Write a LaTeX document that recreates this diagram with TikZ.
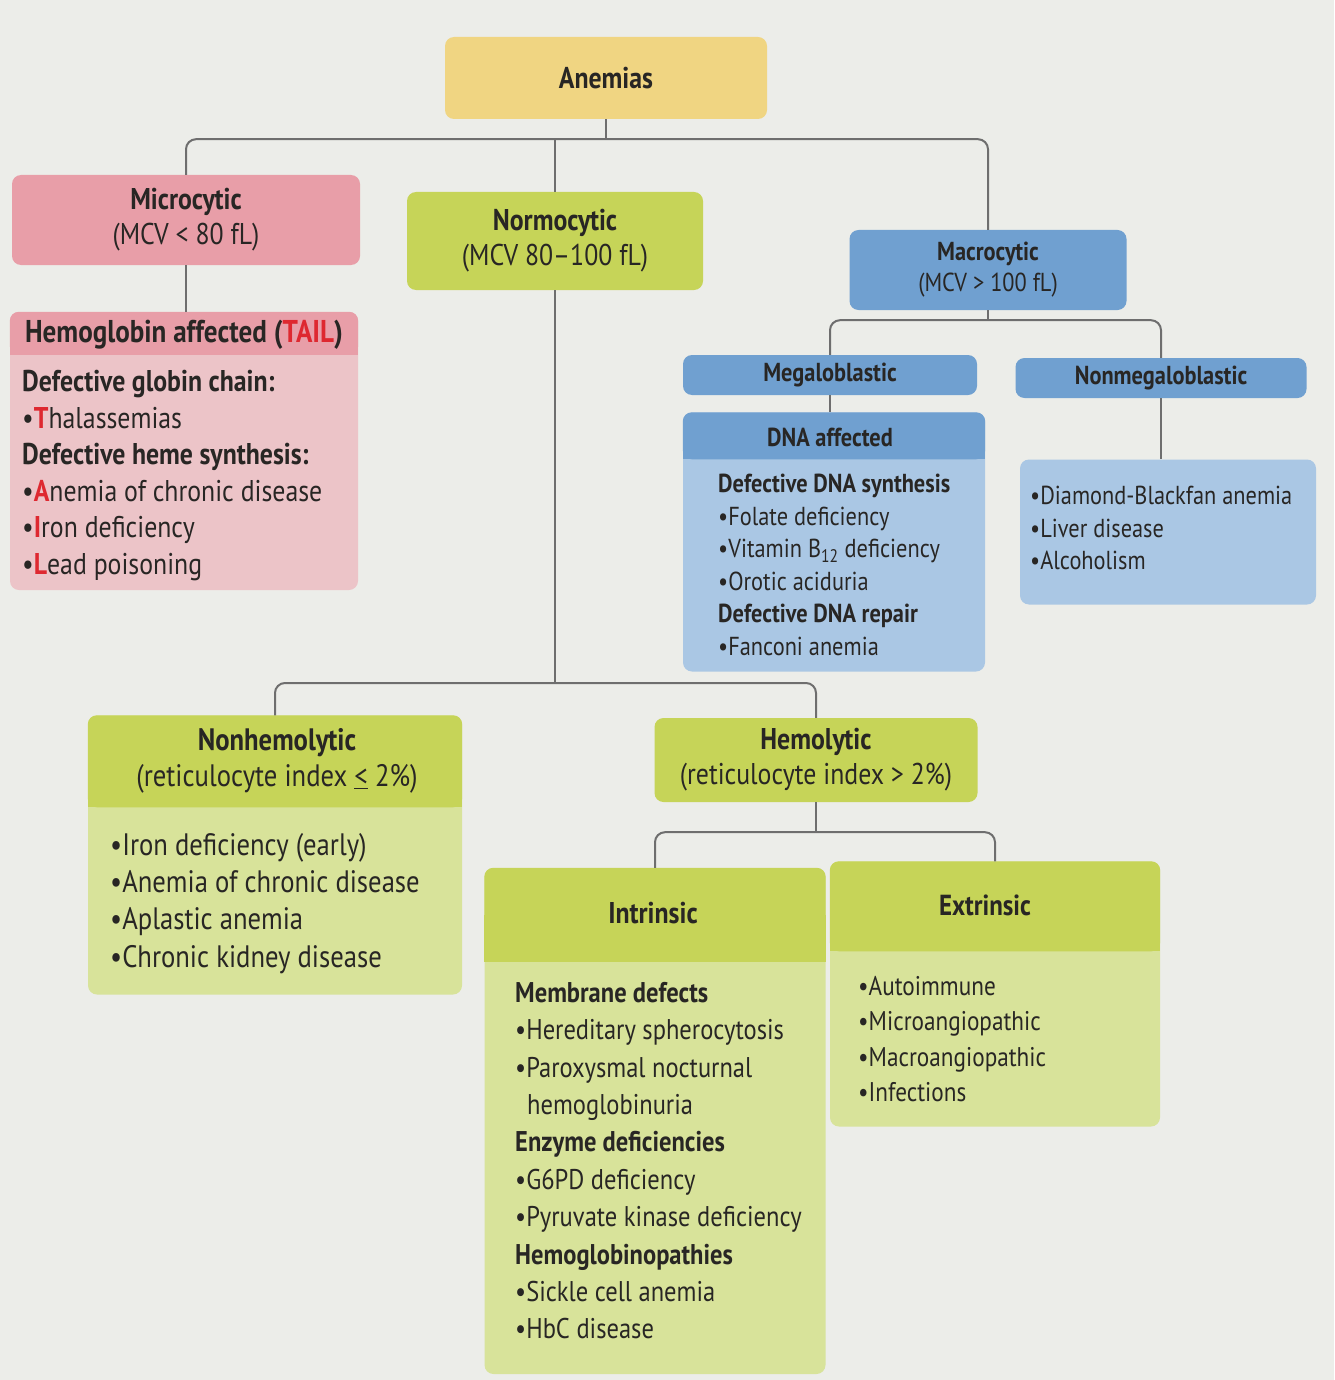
\documentclass[tikz,border=0pt]{standalone}
\usepackage{fontspec}
\setmainfont{PT Sans}[FakeStretch=0.86]
\usetikzlibrary{calc}
\definecolor{bg}{RGB}{236,237,233}
\definecolor{yel}{RGB}{240,213,130}
\definecolor{pinkD}{RGB}{232,158,168}
\definecolor{pinkL}{RGB}{236,196,200}
\definecolor{grnD}{RGB}{198,212,88}
\definecolor{grnL}{RGB}{216,227,154}
\definecolor{bluD}{RGB}{112,160,208}
\definecolor{bluL}{RGB}{170,199,228}
\definecolor{ink}{RGB}{40,38,36}
\definecolor{tailred}{RGB}{222,40,48}
\definecolor{conncol}{RGB}{110,110,110}
\newcommand\hband[3]{%
  \fill[#3, rounded corners=9pt] (#1.north west) rectangle ($(#1.north east)+(0,#2)$);
  \fill[#3] ($(#1.north west)+(0,#2/2)$) rectangle ($(#1.north east)+(0,#2)$);}
\newcommand\tl[1]{\textcolor{tailred}{\textbf{#1}}}
\begin{document}
\begin{tikzpicture}[x=1pt,y=-1pt,
  bx/.style={rounded corners=9pt, inner sep=0pt, text=ink, align=center,
    font=\fontsize{30}{35}\selectfont},
  bxs/.style={bx, font=\fontsize{26}{31}\selectfont},
  hd/.style={inner sep=0pt, text=ink, font=\fontsize{30}{35}\selectfont\bfseries},
  hds/.style={hd, font=\fontsize{26}{31}\selectfont\bfseries},
  lst/.style={anchor=north west, align=left, inner sep=0pt, text=ink,
    font=\fontsize{30}{36.5}\selectfont},
  lsts/.style={lst, font=\fontsize{26}{32.5}\selectfont},
  conn/.style={draw=conncol, line width=2pt, rounded corners=10pt}]
\fill[bg] (0,0) rectangle (1334,1380);
\useasboundingbox (0,0) rectangle (1334,1380);

% ---- boxes
\node[bx, fill=yel, minimum width=322pt, minimum height=82pt] (anem) at (606,78) {\bfseries Anemias};
\node[bx, fill=pinkD, minimum width=348pt, minimum height=90pt] (micro) at (186,220)
  {\textbf{Microcytic}\\(MCV < 80 fL)};
\node[bx, fill=pinkL, minimum width=348pt, minimum height=278pt] (hgb) at (184,451) {};
\node[bx, fill=grnD, minimum width=296pt, minimum height=98pt] (normo) at (555,241)
  {\textbf{Normocytic}\\(MCV 80–100 fL)};
\node[bxs, fill=bluD, minimum width=277pt, minimum height=80pt] (macro) at (988,270)
  {\textbf{Macrocytic}\\(MCV > 100 fL)};
\node[bxs, fill=bluD, minimum width=294pt, minimum height=40pt] (mega) at (830,375)
  {\textbf{Megaloblastic}};
\node[bxs, fill=bluD, minimum width=291pt, minimum height=40pt] (nonmega) at (1161,378)
  {\textbf{Nonmegaloblastic}};
\node[bx, fill=bluL, minimum width=302pt, minimum height=259pt] (dna) at (834,542) {};
\node[bx, fill=bluL, minimum width=296pt, minimum height=145pt] (nmc) at (1168,532) {};
\node[bx, fill=grnL, minimum width=374pt, minimum height=279pt] (nonhem) at (275,855) {};
\node[bx, fill=grnD, minimum width=323pt, minimum height=84pt] (hemol) at (816,760)
  {\textbf{Hemolytic}\\(reticulocyte index > 2\%)};
\node[bx, fill=grnL, minimum width=341pt, minimum height=506pt] (intr) at (655,1121) {};
\node[bx, fill=grnL, minimum width=330pt, minimum height=265pt] (extr) at (995,994) {};

% ---- header bands
\hband{hgb}{43}{pinkD}
\hband{dna}{47}{bluD}
\hband{nonhem}{92}{grnD}
\hband{intr}{94}{grnD}
\hband{extr}{90}{grnD}

% ---- header texts
\node[hd, font=\fontsize{31.5}{35}\selectfont\bfseries] (hgbh) at (184,335) {Hemoglobin affected (\textcolor{tailred}{TAIL})};
\node[hds] (dnah) at (830,437) {DNA affected};
\node[bx, font=\fontsize{31}{36}\selectfont] (nonhemh) at (277,761) {\textbf{Nonhemolytic}\\(reticulocyte index \underline{<} 2\%)};
\node[hd] (intrh) at (653,913) {Intrinsic};
\node[hd, font=\fontsize{29}{35}\selectfont\bfseries] (extrh) at (985,905) {Extrinsic};

% ---- contents
\node[lst] (hgbl) at (22,370) {\textbf{Defective globin chain:}\\
  •\tl{T}halassemias\\
  \textbf{Defective heme synthesis:}\\
  •\tl{A}nemia of chronic disease\\
  •\tl{I}ron deficiency\\
  •\tl{L}ead poisoning};
\node[lsts] (dnal) at (718,474) {\textbf{Defective DNA synthesis}\\
  •Folate deficiency\\
  •Vitamin B\textsubscript{12} deficiency\\
  •Orotic aciduria\\
  \textbf{Defective DNA repair}\\
  •Fanconi anemia};
\node[lsts] (nmcl) at (1030,486) {•Diamond-Blackfan anemia\\
  •Liver disease\\
  •Alcoholism};
\node[lst, font=\fontsize{31}{37.3}\selectfont] (nonhl) at (110,833) {•Iron deficiency (early)\\
  •Anemia of chronic disease\\
  •Aplastic anemia\\
  •Chronic kidney disease};
\node[lst, font=\fontsize{28.5}{37.4}\selectfont] (intrl) at (515,982) {\textbf{Membrane defects}\\
  •Hereditary spherocytosis\\
  •Paroxysmal nocturnal\\
  \hspace*{12pt}hemoglobinuria\\
  \textbf{Enzyme deficiencies}\\
  •G6PD deficiency\\
  •Pyruvate kinase deficiency\\
  \textbf{Hemoglobinopathies}\\
  •Sickle cell anemia\\
  •HbC disease};
\node[lst, font=\fontsize{27}{35.5}\selectfont] (extrl) at (858,976) {•Autoimmune\\
  •Microangiopathic\\
  •Macroangiopathic\\
  •Infections};

% ---- connectors
\coordinate (b1) at ($(anem.south)+(0,20)$);
\draw[conn] (anem.south) -- (b1);
\draw[conn] (micro.north) |- (b1) -| (macro.north);
\draw[conn] (normo.north) -- (normo.north |- b1);
\draw[conn] (micro.south) -- (micro.south |- hgb.north);
\coordinate (b2) at (555,683);
\draw[conn] (normo.south) -- (b2);
\draw[conn] (nonhem.north) |- (b2) -| (hemol.north);
\coordinate (b3) at ($(macro.south)+(0,10)$);
\draw[conn] (macro.south) -- (b3);
\draw[conn] (mega.north) |- (b3) -| (nonmega.north);
\draw[conn] (mega.south) -- (mega.south |- dna.north);
\draw[conn] (nonmega.south) -- (nonmega.south |- nmc.north);
\coordinate (b4) at ($(hemol.south)+(0,30)$);
\draw[conn] (hemol.south) -- (b4);
\draw[conn] (intr.north) |- (b4) -| (extr.north);
\end{tikzpicture}
\end{document}
